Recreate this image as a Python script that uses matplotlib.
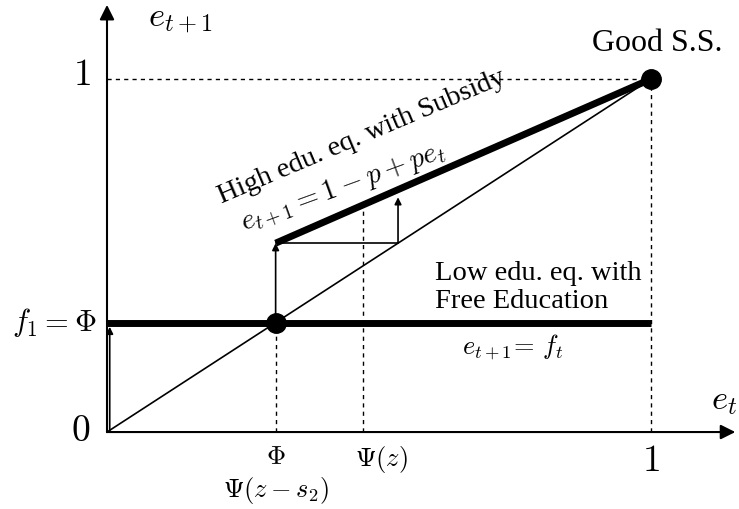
import matplotlib.pyplot as plt

plt.rcParams['mathtext.fontset'] = 'cm'
plt.rcParams['font.family'] = ['Liberation Serif', 'DejaVu Serif']

# values (both axes run 0..1)
phi = 0.31          # Phi = Psi(z - s2) = f_1
psi_z = 0.47        # Psi(z)
diag_x = [0, 1]
diag_y = [0, 1]
high_x = [0.31, 1.0]     # e_{t+1} = 1 - p + p e_t
high_y = [0.535, 1.0]
low_x = [0, 1.0]         # e_{t+1} = f_t
low_y = [0.31, 0.31]
step_y = 0.535           # horizontal step of the dynamics
step_top = 0.665
good_ss = (1.0, 1.0)
low_ss = (0.31, 0.31)

fig = plt.figure(figsize=(7.39, 5.09), dpi=100)
ax = fig.add_axes([0, 0, 1, 1])
ax.set_xlim(-0.1967, 1.1618)
ax.set_ylim(-0.218, 1.2238)
ax.axis('off')

# axes with arrows
ax.annotate('', xy=(1.155, 0), xytext=(0, 0),
            arrowprops=dict(arrowstyle='-|>', color='black', lw=1.5, mutation_scale=22, shrinkA=0, shrinkB=0))
ax.annotate('', xy=(0, 1.21), xytext=(0, 0),
            arrowprops=dict(arrowstyle='-|>', color='black', lw=1.5, mutation_scale=22, shrinkA=0, shrinkB=0))

# dashed guides
ax.plot([0, 1], [1, 1], ls=(0, (3, 3)), color='black', lw=1)
ax.plot([1, 1], [0, 1], ls=(0, (3, 3)), color='black', lw=1)
ax.plot([phi, phi], [0, phi], ls=(0, (3, 3)), color='black', lw=1)
ax.plot([psi_z, psi_z], [0, 0.64], ls=(0, (3, 3)), color='black', lw=1)

# 45 degree line
ax.plot(diag_x, diag_y, color='black', lw=1.2)

# equilibrium lines
ax.plot(high_x, high_y, color='black', lw=5, solid_capstyle='butt')
ax.plot(low_x, low_y, color='black', lw=5, solid_capstyle='butt')

# dynamics
arr = dict(arrowstyle='-|>', color='black', lw=1.2, mutation_scale=10, shrinkA=0, shrinkB=0)
ax.annotate('', xy=(0.005, phi - 0.012), xytext=(0.005, 0), arrowprops=arr)
ax.annotate('', xy=(phi, step_y), xytext=(phi, phi), arrowprops=arr)
ax.plot([phi, step_y], [step_y, step_y], color='black', lw=1.2)
ax.annotate('', xy=(step_y, step_top), xytext=(step_y, step_y), arrowprops=arr)

# steady states
ax.plot(*good_ss, 'o', color='black', ms=14)
ax.plot(*low_ss, 'o', color='black', ms=14)

# labels
ax.text(0.075, 1.17, r'$e_{t+1}$', fontsize=25, ha='left', va='center')
ax.text(1.134, 0.09, r'$e_t$', fontsize=25, ha='center', va='center')
ax.text(-0.03, 1.01, r'$1$', fontsize=27, ha='right', va='center')
ax.text(-0.03, 0.0, r'$0$', fontsize=27, ha='right', va='center')
ax.text(1.0, -0.085, r'$1$', fontsize=27, ha='center', va='center')
ax.text(-0.02, phi, r'$f_1 = \Phi$', fontsize=22, ha='right', va='center')
ax.text(phi, -0.075, r'$\Phi$', fontsize=19, ha='center', va='center')
ax.text(phi, -0.165, r'$\Psi(z - s_2)$', fontsize=19, ha='center', va='center')
ax.text(psi_z + 0.035, -0.077, r'$\Psi(z)$', fontsize=19, ha='center', va='center')
ax.text(1.011, 1.1, 'Good S.S.', fontsize=23, ha='center', va='center')
ax.text(0.603, 0.41, 'Low edu. eq. with\nFree Education', fontsize=20.5, ha='left', va='center',
        linespacing=1.15)
ax.text(0.746, 0.24, r'$e_{t+1}\!=\, f_t$', fontsize=19, ha='center', va='center')
ax.text(0.468, 0.835, 'High edu. eq. with Subsidy', fontsize=20.5, ha='center', va='center',
        rotation=23, rotation_mode='anchor')
ax.text(0.435, 0.692, r'$e_{t+1} = 1 - p + pe_t$', fontsize=20.5, ha='center', va='center',
        rotation=20, rotation_mode='anchor')

fig.savefig('out.png', dpi=100)
